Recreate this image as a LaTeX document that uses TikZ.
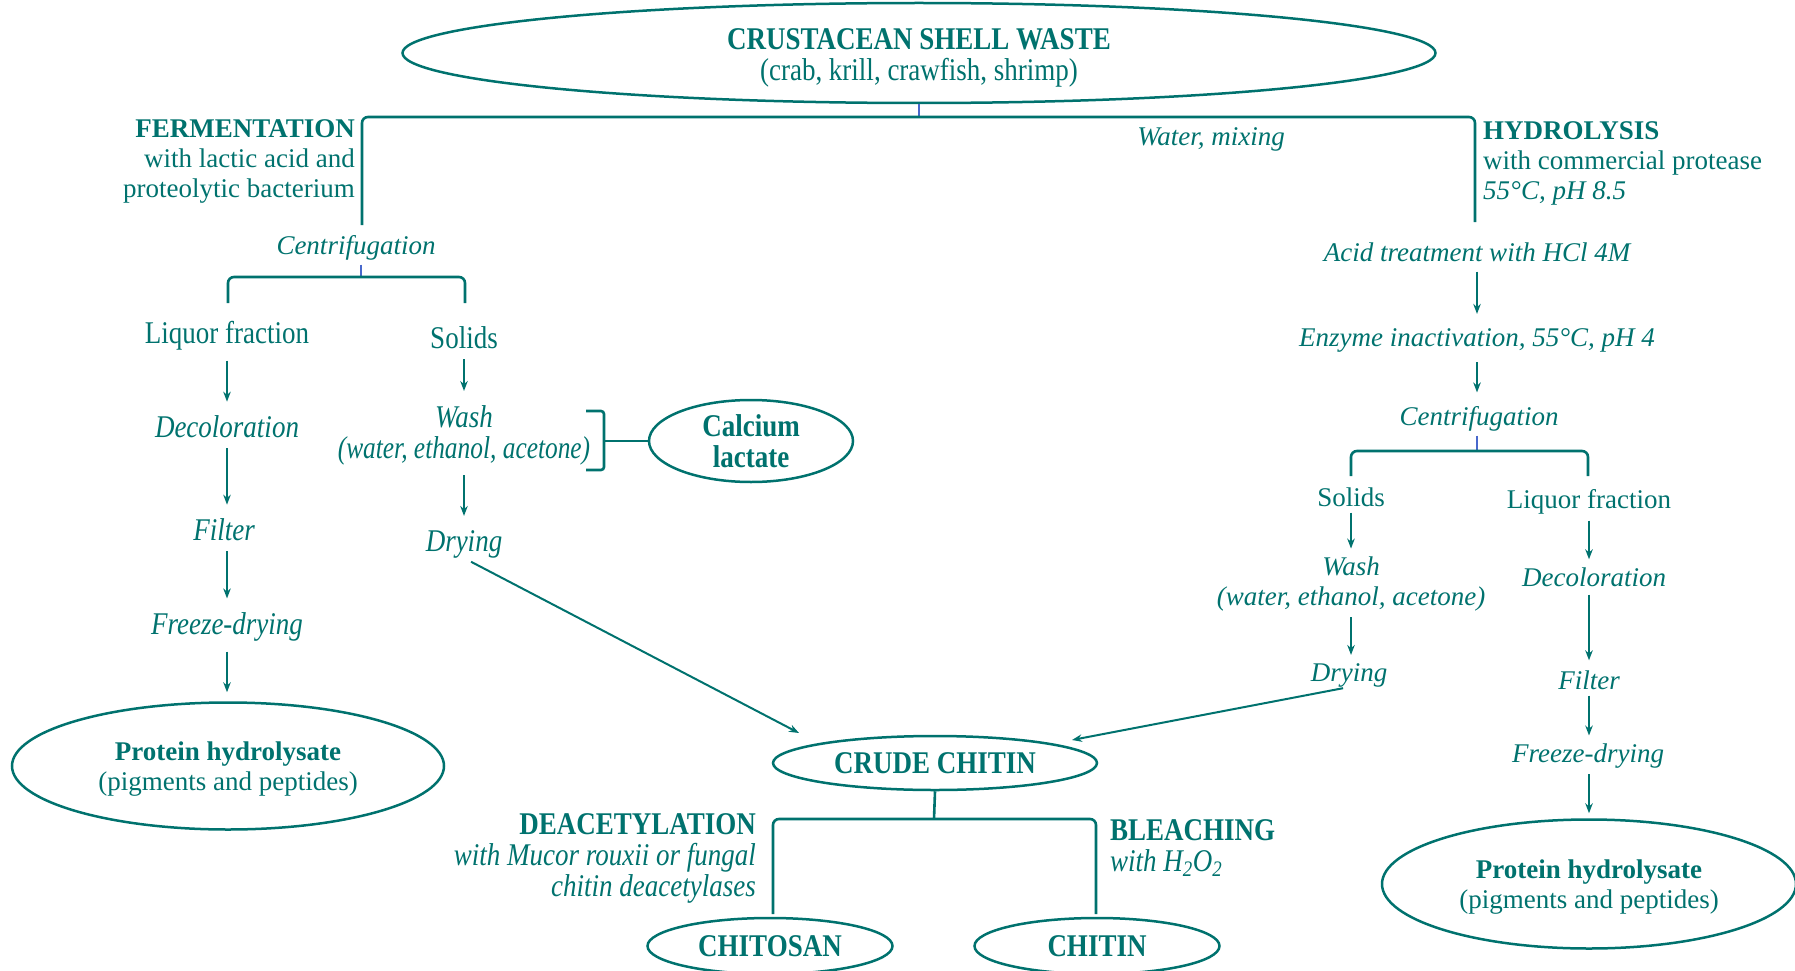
\documentclass[tikz,border=0pt]{standalone}
\usepackage{fontspec}
\setmainfont{Liberation Serif}
\usepackage{graphicx}
\usetikzlibrary{shapes.geometric,arrows.meta}
\definecolor{tl}{RGB}{0,114,110}
\definecolor{bl}{RGB}{72,104,204}
\newcommand{\bsz}{\fontsize{27}{30}\selectfont}
\newcommand{\tallt}[2][1]{\scalebox{#1}[1.17]{#2}}
\begin{document}
\begin{tikzpicture}[x=1pt,y=-1pt,
  every node/.style={text=tl, font=\bsz, inner sep=0pt},
  ell/.style={draw=tl, line width=2.5pt, ellipse, inner sep=0pt, align=center},
  itx/.style={font=\bsz\itshape},
  arr/.style={draw=tl, line width=2pt, -{Stealth[length=10pt,width=7.5pt]}, shorten <=10pt, shorten >=14pt},
  arrp/.style={draw=tl, line width=2pt, -{Stealth[length=10pt,width=7.5pt]}},
  brk/.style={draw=tl, line width=2.6pt, rounded corners=6pt},
  tick/.style={draw=bl, line width=2pt},
]
\useasboundingbox (0,0) rectangle (1795,971);

% top
\node[ell, minimum width=1033, minimum height=100] (waste) at (919,53) {};
\node[align=center, yshift=-5pt] (wasteT) at (waste.center)
  {\tallt{\textbf{CRUSTACEAN SHELL WASTE}}\\[1pt]\tallt{(crab, krill, crawfish, shrimp)}};
\coordinate (j0) at (919,117);
\coordinate (fL) at (362,225);
\coordinate (hR) at (1475,222);
\draw[tick] (waste.south) -- (j0);
\draw[brk] (fL) -- (fL |- j0) -- (hR |- j0) -- (hR);
\node[itx] (water) at (1211,139) {Water, mixing};
\node[align=right, anchor=east] (ferm) at (355,161)
  {\textbf{FERMENTATION}\\with lactic acid and\\proteolytic bacterium};
\node[align=left, anchor=west] (hydro) at (1483,163)
  {\textbf{HYDROLYSIS}\\with commercial protease\\\textit{55°C, pH 8.5}};

% left branch
\node[itx] (cf1) at (356,248) {Centrifugation};
\coordinate (j1) at (361,277);
\coordinate (l1) at (228,303);
\coordinate (r1) at (465,303);
\draw[tick] (j1 |- cf1.south) ++(0,4) -- (j1);
\draw[brk] (l1) -- (l1 |- j1) -- (r1 |- j1) -- (r1);

\node (liq1) at (227,336) {\tallt{Liquor fraction}};
\node (sol1) at (464,338) {\tallt{Solids}};
\node[itx] (dec1) at (227,427) {\tallt{Decoloration}};
\node[itx] (fil1) at (224,530) {\tallt{Filter}};
\node[itx] (frz1) at (227,627) {\tallt{Freeze-drying}};
\node[ell, minimum width=432, minimum height=127] (ph1) at (228,766) {};
\node[align=center, yshift=-3.5pt] (ph1T) at (ph1.center)
  {\textbf{Protein hydrolysate}\\(pigments and peptides)};
\draw[arr] (liq1.south) -- (liq1.south |- dec1.north);
\draw[arr] (liq1.south |- dec1.south) -- (liq1.south |- fil1.north);
\draw[arr] (liq1.south |- fil1.south) -- (liq1.south |- frz1.north);
\draw[arr, shorten >=9pt] (liq1.south |- frz1.south) -- (liq1.south |- ph1.north);

\node[itx, align=center] (wash1) at (464,435)
  {\tallt{Wash}\\[1pt]\tallt[0.94]{(water, ethanol, acetone)}};
\node[itx] (dry1) at (464,544) {\tallt{Drying}};
\draw[arr] (sol1.south) -- (sol1.south |- wash1.north);
\draw[arr] (sol1.south |- wash1.south) -- (sol1.south |- dry1.north);

\node[ell, minimum width=204, minimum height=82, font=\bsz\bfseries] (cal) at (751,441)
  {\tallt{Calcium}\\[1pt]\tallt{lactate}};
\coordinate (b1) at (586,411);
\coordinate (b2) at (604,411);
\coordinate (b3) at (604,470);
\coordinate (b4) at (586,470);
\coordinate (bm) at (604,441);
\draw[brk, rounded corners=3pt] (b1) -- (b2) -- (b3) -- (b4);
\draw[brk] (bm) -- (cal.west);

% crude chitin
\node[ell, minimum width=324, minimum height=54, font=\bsz\bfseries] (crude) at (935,763)
  {\tallt{CRUDE CHITIN}};
\coordinate (t1) at (799,733);
\coordinate (t2) at (1072,740);
\draw[arrp, shorten <=8pt] (dry1.south) -- (t1);

% right branch
\node[itx] (acid) at (1477,252) {Acid treatment with HCl 4M};
\node[itx] (enz) at (1477,340) {Enzyme inactivation, 55°C, pH 4};
\node[itx] (cf2) at (1479,419) {Centrifugation};
\draw[arr] (acid.south) -- (acid.south |- enz.north);
\draw[arr] (acid.south |- enz.south) -- (acid.south |- cf2.north);
\coordinate (j2) at (1477,451);
\coordinate (l2) at (1351,476);
\coordinate (r2) at (1588,476);
\draw[tick] (j2 |- cf2.south) ++(0,4) -- (j2);
\draw[brk] (l2) -- (l2 |- j2) -- (r2 |- j2) -- (r2);

\node (sol2) at (1351,497) {Solids};
\node (liq2) at (1589,502) {Liquor fraction};
\node[itx, align=center] (wash2) at (1351,584)
  {Wash\\(water, ethanol, acetone)};
\node[itx] (dry2) at (1349,675) {Drying};
\draw[arr, shorten <=6pt, shorten >=8pt] (sol2.south) -- (sol2.south |- wash2.north);
\draw[arr, shorten <=6pt, shorten >=8pt] (sol2.south |- wash2.south) -- (sol2.south |- dry2.north);
\draw[arrp, shorten <=6pt] (dry2.south) -- (t2);

\node[itx] (dec2) at (1594,577) {Decoloration};
\node[itx] (fil2) at (1589,680) {Filter};
\node[itx] (frz2) at (1588,756) {Freeze-drying};
\node[ell, minimum width=414, minimum height=129] (ph2) at (1589,884) {};
\node[align=center, yshift=-3.5pt] (ph2T) at (ph2.center)
  {\textbf{Protein hydrolysate}\\(pigments and peptides)};
\draw[arr, shorten <=6pt, shorten >=8pt] (liq2.south) -- (liq2.south |- dec2.north);
\draw[arr, shorten <=8pt, shorten >=10pt] (liq2.south |- dec2.south) -- (liq2.south |- fil2.north);
\draw[arr, shorten <=6pt, shorten >=8pt] (liq2.south |- fil2.south) -- (liq2.south |- frz2.north);
\draw[arr, shorten <=6pt, shorten >=5pt] (liq2.south |- frz2.south) -- (liq2.south |- ph2.north);

% bottom
\coordinate (j3) at (934,819);
\coordinate (l3) at (773,914);
\coordinate (r3) at (1096,914);
\draw[brk] (crude.south) -- (j3);
\draw[brk] (l3) -- (l3 |- j3) -- (r3 |- j3) -- (r3);
\node[align=right, anchor=east, font=\bsz\itshape] (deac) at (756,858)
  {\tallt{\textbf{\upshape DEACETYLATION}}\\[1pt]\tallt{with Mucor rouxii or fungal}\\[1pt]\tallt{chitin deacetylases}};
\node[align=left, anchor=west, font=\bsz\itshape] (bleach) at (1110,848)
  {\tallt{\textbf{\upshape BLEACHING}}\\[1pt]\tallt{with H\textsubscript{2}O\textsubscript{2}}};
\node[ell, minimum width=245, minimum height=56, font=\bsz\bfseries] (chitosan) at (770,946)
  {\tallt{CHITOSAN}};
\node[ell, minimum width=245, minimum height=56, font=\bsz\bfseries] (chitin) at (1097,946)
  {\tallt{CHITIN}};
\end{tikzpicture}
\end{document}
